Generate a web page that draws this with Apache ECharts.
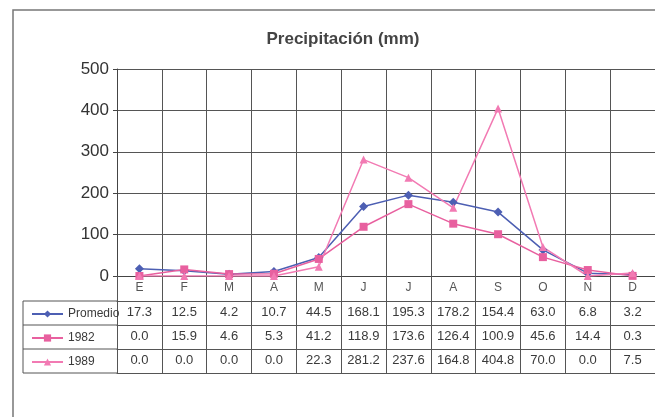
<!DOCTYPE html>
<html>
<head>
<meta charset="utf-8">
<script src="https://cdn.jsdelivr.net/npm/echarts@6/dist/echarts.min.js"></script>
<style>
  html, body { margin: 0; padding: 0; background: #fff; }
  #chart { width: 655px; height: 417px; }
</style>
</head>
<body>
<div id="chart"></div>
<script>
const months = ['E', 'F', 'M', 'A', 'M', 'J', 'J', 'A', 'S', 'O', 'N', 'D']
const promedio = [17.3, 12.5, 4.2, 10.7, 44.5, 168.1, 195.3, 178.2, 154.4, 63.0, 6.8, 3.2]
const y1982 = [0.0, 15.9, 4.6, 5.3, 41.2, 118.9, 173.6, 126.4, 100.9, 45.6, 14.4, 0.3]
const y1989 = [0.0, 0.0, 0.0, 0.0, 22.3, 281.2, 237.6, 164.8, 404.8, 70.0, 0.0, 7.5]
const seriesNames = ['Promedio', '1982', '1989']
const yTicks = [0, 100, 200, 300, 400, 500]

const FONT = '"Liberation Sans", Arial, sans-serif'
const GRID_COLOR = '#555'
const colors = ['#4d5fb3', '#e8609f', '#f27ab3']
const rowValues = [promedio, y1982, y1989]

const myChart = echarts.init(document.getElementById('chart'))

// filas de la tabla de datos: un eje x extra por fila
const tableAxes = rowValues.map((vals, r) => ({
  type: 'category',
  gridIndex: 0,
  position: 'bottom',
  offset: 25 + r * 24,
  data: months,
  axisLine: { show: true, lineStyle: { color: GRID_COLOR, width: 1 } },
  axisTick: { show: false },
  splitLine: { show: false },
  axisLabel: {
    margin: 5,
    color: '#3a3a3a',
    fontSize: 13,
    fontFamily: FONT,
    interval: 0,
    formatter: (v, i) => vals[i].toFixed(1)
  }
}))

myChart.setOption({
  backgroundColor: '#fff',
  animation: false,
  title: {
    text: 'Precipitación (mm)',
    left: 338,
    textAlign: 'center',
    top: 26,
    textStyle: { fontFamily: FONT, fontSize: 17, fontWeight: 'bold', color: '#444' }
  },
  legend: {
    orient: 'vertical',
    left: 26,
    top: 302,
    itemWidth: 31,
    itemHeight: 9,
    itemGap: 10,
    textStyle: { fontFamily: FONT, fontSize: 12, color: '#3a3a3a', lineHeight: 14 },
    data: seriesNames
  },
  grid: {
    left: 117,
    top: 69,
    width: 541,
    height: 207,
    containLabel: false
  },
  xAxis: [{
    type: 'category',
    gridIndex: 0,
    position: 'bottom',
    boundaryGap: true,
    data: months,
    axisLine: { show: true, lineStyle: { color: '#444', width: 1 } },
    axisTick: { show: true, alignWithLabel: false, interval: 0, length: 97, lineStyle: { color: GRID_COLOR } },
    splitLine: { show: true, interval: 0, lineStyle: { color: GRID_COLOR, width: 1 } },
    axisLabel: { margin: 6, color: '#555', fontSize: 12, fontFamily: FONT, interval: 0 }
  }].concat(tableAxes).concat([{
    type: 'category',
    gridIndex: 0,
    position: 'bottom',
    offset: 97,
    data: months,
    axisLine: { show: true, lineStyle: { color: GRID_COLOR, width: 1 } },
    axisTick: { show: false },
    axisLabel: { show: false }
  }]),
  yAxis: {
    type: 'value',
    min: yTicks[0],
    max: yTicks[yTicks.length - 1],
    interval: 100,
    axisLine: { show: true, lineStyle: { color: '#444', width: 1 } },
    axisTick: { show: true, length: 4, lineStyle: { color: '#444' } },
    splitLine: { show: true, lineStyle: { color: GRID_COLOR, width: 1 } },
    axisLabel: { margin: 8, color: '#333', fontSize: 17, fontFamily: FONT }
  },
  graphic: [
    // marco exterior
    { type: 'rect', shape: { x: 13, y: 10, width: 700, height: 500 }, style: { fill: 'none', stroke: '#777', lineWidth: 1.5 }, silent: true },
    // parte izquierda de la tabla (columna de leyenda)
    { type: 'polyline', shape: { points: [[117, 301], [23, 301], [23, 373], [117, 373]] }, style: { fill: 'none', stroke: GRID_COLOR, lineWidth: 1 }, silent: true },
    { type: 'line', shape: { x1: 23, y1: 325, x2: 117, y2: 325 }, style: { stroke: GRID_COLOR, lineWidth: 1 }, silent: true },
    { type: 'line', shape: { x1: 23, y1: 349, x2: 117, y2: 349 }, style: { stroke: GRID_COLOR, lineWidth: 1 }, silent: true }
  ],
  series: [{
    name: seriesNames[0],
    type: 'line',
    data: promedio,
    symbol: 'diamond',
    symbolSize: 9,
    color: colors[0],
    lineStyle: { width: 1.5, color: colors[0] },
    itemStyle: { color: colors[0] }
  }, {
    name: seriesNames[1],
    type: 'line',
    data: y1982,
    symbol: 'rect',
    symbolSize: 8,
    color: colors[1],
    lineStyle: { width: 1.5, color: colors[1] },
    itemStyle: { color: colors[1] }
  }, {
    name: seriesNames[2],
    type: 'line',
    data: y1989,
    symbol: 'triangle',
    symbolSize: 8,
    color: colors[2],
    lineStyle: { width: 1.5, color: colors[2] },
    itemStyle: { color: colors[2] }
  }]
})
</script>
</body>
</html>
